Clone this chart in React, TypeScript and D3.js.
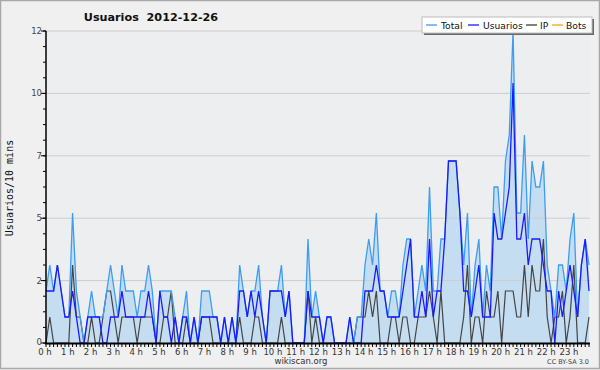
import React from "react";
import * as d3 from "d3";

// 10-minute slots, 2012-12-26, 144 slots (0h00 .. 23h50)
const usuarios = [
  2, 2, 2, 3, 2, 1, 1, 2, 1, 0, 0, 1,
  1, 1, 1, 0, 0, 1, 1, 1, 2, 1, 1, 1,
  1, 1, 1, 2, 1, 0, 2, 1, 1, 0, 1, 0,
  1, 1, 0, 1, 0, 1, 1, 1, 1, 1, 0, 1,
  0, 1, 0, 2, 2, 1, 2, 1, 2, 1, 0, 2,
  2, 2, 2, 1, 2, 0, 0, 0, 0, 2, 1, 1,
  1, 0, 1, 1, 0, 0, 0, 0, 1, 0, 0, 0,
  2, 2, 2, 3, 2, 2, 1, 1, 1, 1, 2, 3,
  4, 1, 1, 2, 1, 4, 1, 2, 2, 4, 7, 7,
  7, 5, 2, 2, 1, 2, 3, 1, 1, 1, 5, 4,
  4, 5, 6, 10, 4, 4, 5, 3, 4, 4, 4, 3,
  2, 2, 0, 2, 1, 2, 3, 2, 1, 3, 4, 2,
];
const ip = [
  0, 1, 0, 0, 0, 0, 0, 3, 1, 1, 0, 0,
  1, 0, 0, 1, 2, 2, 1, 0, 1, 1, 1, 1,
  0, 1, 1, 1, 1, 0, 0, 1, 1, 2, 0, 0,
  0, 1, 0, 0, 0, 1, 1, 1, 0, 0, 0, 0,
  0, 0, 0, 1, 0, 0, 0, 1, 1, 0, 0, 0,
  0, 0, 1, 0, 0, 0, 0, 0, 0, 2, 0, 1,
  0, 0, 0, 0, 0, 0, 0, 0, 0, 0, 1, 1,
  1, 2, 1, 2, 0, 0, 0, 1, 1, 0, 1, 1,
  0, 0, 1, 1, 1, 2, 1, 0, 2, 0, 0, 0,
  0, 0, 1, 3, 0, 1, 1, 0, 2, 1, 1, 2,
  0, 2, 2, 2, 1, 1, 3, 1, 3, 2, 2, 4,
  1, 0, 1, 1, 2, 0, 1, 3, 0, 0, 0, 1,
];
const total = [
  2, 3, 2, 3, 2, 1, 1, 5, 2, 1, 0, 1,
  2, 1, 1, 1, 2, 3, 2, 1, 3, 2, 2, 2,
  1, 2, 2, 3, 2, 0, 2, 2, 2, 2, 1, 0,
  1, 2, 0, 1, 0, 2, 2, 2, 1, 1, 0, 1,
  0, 1, 0, 3, 2, 1, 2, 2, 3, 1, 0, 2,
  2, 2, 3, 1, 2, 0, 0, 0, 0, 4, 1, 2,
  1, 0, 1, 1, 0, 0, 0, 0, 1, 0, 1, 1,
  3, 4, 3, 5, 2, 2, 1, 2, 2, 1, 3, 4,
  4, 1, 2, 3, 2, 6, 2, 2, 4, 4, 7, 7,
  7, 5, 3, 5, 1, 3, 4, 1, 3, 2, 6, 6,
  4, 7, 8, 12, 5, 5, 8, 4, 7, 6, 6, 7,
  3, 2, 1, 3, 3, 2, 4, 5, 1, 3, 4, 3,
];

const hourLabels = [
  "0 h", "1 h", "2 h", "3 h", "4 h", "5 h", "6 h", "7 h", "8 h", "9 h", "10 h", "11 h",
  "12 h", "13 h", "14 h", "15 h", "16 h", "17 h", "18 h", "19 h", "20 h", "21 h", "22 h", "23 h",
];
const yTickValues = [0, 2.4, 4.8, 7.2, 9.6, 12];
const yTickLabels = ["0", "2", "5", "7", "10", "12"];

const legendItems = [
  { label: "Total", color: "#3d9df2" },
  { label: "Usuarios", color: "#1a1aff" },
  { label: "IP", color: "#3a3a3a" },
  { label: "Bots", color: "#ffa21a" },
];

const W = 600;
const H = 370;
const M = { left: 46, right: 589, top: 31, bottom: 343 };

export default function App() {
  const n = total.length;
  const x = d3.scaleLinear().domain([0, n - 1]).range([M.left, M.right]);
  const y = d3.scaleLinear().domain([0, 12]).range([M.bottom, M.top]);

  const line = d3
    .line<number>()
    .x((_, i) => x(i))
    .y((d) => y(d));
  const area = d3
    .area<number>()
    .x((_, i) => x(i))
    .y0(y(0))
    .y1((d) => y(d));

  const minorY = d3.range(0, 12.0001, 0.6);
  const font = "'DejaVu Sans', sans-serif";

  const legendSwatchX = [426, 468, 526, 552];
  const legendTextX = [441, 483, 540, 566];

  return (
    <svg
      width={W}
      height={H}
      style={{ position: "absolute", left: 0, top: 0, display: "block" }}
    >
      <rect x={0} y={0} width={W} height={H} fill="#f0f0f0" />
      <rect x={0.5} y={0.5} width={W - 1} height={368} fill="none" stroke="#a8a8a8" strokeWidth={1.5} />
      <rect x={M.left} y={M.top} width={M.right - M.left + 1} height={M.bottom - M.top} fill="#eceef0" />

      {/* area */}
      <path d={area(total) || ""} fill="#c5ddf1" />

      {/* grid */}
      {yTickValues.slice(1).map((v) => (
        <line key={v} x1={M.left} x2={M.right + 1} y1={y(v)} y2={y(v)} stroke="#cdcdcd" strokeWidth={1} />
      ))}

      {/* series */}
      <path d={line(ip) || ""} fill="none" stroke="#444444" strokeWidth={1.2} />
      <path d={line(total) || ""} fill="none" stroke="#3d9df2" strokeWidth={1.3} />
      <path d={line(usuarios) || ""} fill="none" stroke="#1a1aff" strokeWidth={1.3} />

      {/* y axis */}
      <line x1={M.left} x2={M.left} y1={M.top} y2={M.bottom + 1} stroke="#000" strokeWidth={1.5} />
      {minorY.map((v, i) => (
        <line key={"m" + i} x1={M.left - 3} x2={M.left} y1={y(v)} y2={y(v)} stroke="#000" strokeWidth={1} />
      ))}
      {yTickValues.map((v, i) => (
        <g key={"yt" + i}>
          <line x1={M.left - 5} x2={M.left} y1={y(v)} y2={y(v)} stroke="#000" strokeWidth={1} />
          <text
            x={M.left - 4}
            y={i === 0 ? y(v) + 1.5 : y(v) + 3}
            textAnchor="end"
            fontSize={8.5}
            fill="#444"
            fontFamily={font}
          >
            {yTickLabels[i]}
          </text>
        </g>
      ))}

      {/* x axis */}
      <line x1={M.left - 1} x2={M.right + 1} y1={M.bottom + 0.5} y2={M.bottom + 0.5} stroke="#000" strokeWidth={2} />
      {total.map((_, i) => (
        <line key={"xt" + i} x1={x(i)} x2={x(i)} y1={M.bottom} y2={M.bottom + 4} stroke="#000" strokeWidth={1} />
      ))}
      {hourLabels.map((lab, h) => (
        <text
          key={lab}
          x={x(h * 6) - 1}
          y={355}
          textAnchor="middle"
          fontSize={8.5}
          fill="#333"
          fontFamily={font}
        >
          {lab}
        </text>
      ))}

      {/* y label */}
      <text
        transform={`translate(13, 188) rotate(-90)`}
        textAnchor="middle"
        fontSize={10}
        fill="#111"
        fontFamily="'DejaVu Sans Mono', monospace"
      >
        Usuarios/10 mins
      </text>

      {/* title */}
      <text
        x={151}
        y={21}
        textAnchor="middle"
        fontSize={11.2}
        fontWeight="bold"
        fill="#111"
        fontFamily={font}
        style={{ whiteSpace: "pre" }}
      >
        {"Usuarios  2012-12-26"}
      </text>

      {/* legend */}
      <rect x={424} y={19} width={170} height={16} fill="#6a6a6a" />
      <rect x={422} y={17} width={170} height={16} fill="#ffffff" stroke="#bcbcbc" strokeWidth={1} />
      {legendItems.map((it, i) => (
        <g key={it.label}>
          <line
            x1={legendSwatchX[i]}
            x2={legendSwatchX[i] + 11}
            y1={25}
            y2={25}
            stroke={it.color}
            strokeWidth={1.3}
          />
          <text x={legendTextX[i]} y={29} fontSize={9.2} fill="#111" fontFamily={font}>
            {it.label}
          </text>
        </g>
      ))}

      {/* footer */}
      <text x={301} y={364} textAnchor="middle" fontSize={8.5} fill="#333" fontFamily={font}>
        wikiscan.org
      </text>
      <text x={589} y={364} textAnchor="end" fontSize={6.5} fill="#444" fontFamily={font}>
        CC BY-SA 3.0
      </text>
    </svg>
  );
}
